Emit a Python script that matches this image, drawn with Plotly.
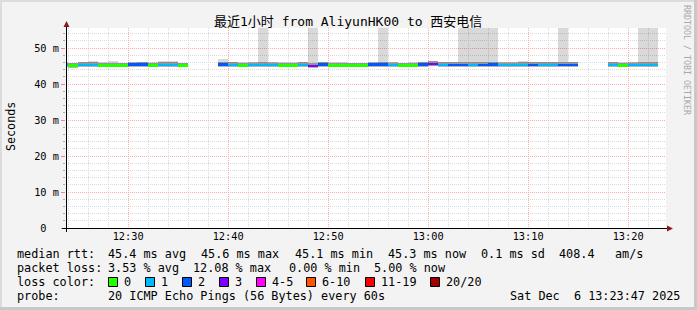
import plotly.graph_objects as go
import pandas as pd

# ---------------- data ----------------
bin_start = pd.date_range("2025-12-06 12:23", periods=60, freq="min")

loss_count = [1, 0, 1, 1, 0, 0, 0, 2, 2, 0, 1, 1, 0,
              None, None, None,
              2, 1, 0, 1, 1, 1, 0, 0, 1, 3, 2, 0, 0, 0, 0, 2, 2, 1, 0, 0,
              2, 3, 1, 2, 2, 1, 2, 2, 1, 1, 1, 2, 1, 1, 2, 2,
              None, None, None,
              1, 0, 1, 1, 1]

median_ms = [45.3, 45.1, 45.3, 45.3, 45.2, 45.2, 45.2, 45.4, 45.4, 45.2, 45.3, 45.3, 45.2,
             None, None, None,
             45.4, 45.3, 45.2, 45.3, 45.3, 45.3, 45.2, 45.2, 45.3, 45.0, 45.4, 45.2,
             45.2, 45.2, 45.2, 45.4, 45.4, 45.3, 45.2, 45.2, 45.4, 45.6, 45.3, 45.3,
             45.3, 45.3, 45.3, 45.4, 45.3, 45.3, 45.3, 45.3, 45.3, 45.3, 45.3, 45.3,
             None, None, None,
             45.3, 45.2, 45.3, 45.3, 45.3]

smoke_hi = [45.7, 45.8, 46.0, 46.4, 46.1, 46.3, 45.9, 45.8, 46.1, 46.1, 46.3, 46.3, 45.8,
            None, None, None,
            46.9, 46.1, 46.0, 45.9, 99.0, 45.9, 46.0, 46.2, 46.2, 99.0, 46.0, 46.0,
            46.1, 45.9, 45.9, 45.9, 99.0, 45.8, 45.7, 46.1, 46.2, 46.4, 46.2, 46.0,
            99.0, 99.0, 99.0, 99.0, 45.9, 45.9, 46.3, 46.2, 46.2, 46.0, 99.0, 46.1,
            None, None, None,
            46.0, 46.0, 45.9, 99.0, 99.0]

smoke_lo = [44.9, 44.8, 44.9, 44.9, 44.9, 44.9, 44.9, 45.0, 45.0, 44.9, 44.9, 44.9, 44.9,
            None, None, None,
            45.0, 44.9, 44.9, 44.9, 44.9, 44.9, 44.9, 44.8, 44.9, 44.6, 45.0, 44.9,
            44.9, 44.9, 44.9, 45.0, 45.0, 44.9, 44.9, 44.9, 45.0, 45.1, 44.9, 44.9,
            44.9, 44.9, 44.9, 45.0, 44.9, 44.9, 44.9, 45.0, 44.9, 44.9, 44.9, 44.9,
            None, None, None,
            44.9, 44.8, 44.9, 44.9, 44.9]

loss_levels = ["0", "1", "2", "3", "4-5", "6-10", "11-19", "20/20"]
loss_colors = ["#26ff00", "#00b8ff", "#0059ff", "#7e00ff", "#ff00ff", "#ff5500", "#ff0000", "#a10000"]

y_tickvals = [0, 10, 20, 30, 40, 50]
y_ticktext = ["0\u00a0\u00a0", "10 m", "20 m", "30 m", "40 m", "50 m"]

title_text = "最近1小时 from AliyunHK00 to 西安电信"
legend_rows = [
    [("median rtt:", 16), ("45.4 ms avg", 107), ("45.6 ms max", 200), ("45.1 ms min", 293.5),
     ("45.3 ms now", 387), ("0.1 ms sd", 480), ("408.4", 558), ("am/s", 614)],
    [("packet loss:", 16), ("3.53 % avg", 107), ("12.08 % max", 192), ("0.00 % min", 288),
     ("5.00 % now", 373)],
    [("loss color:", 16)],
    [("probe:", 16), ("20 ICMP Echo Pings (56 Bytes) every 60s", 107)],
]
stamp_text = "Sat Dec  6 13:23:47 2025"

# ---------------- geometry helpers ----------------
W, H = 697, 310
L, R, T, B = 66, 31, 28, 82
PW, PH = W - L - R, H - T - B


def fx(x):
    return (x - L) / PW


def fy(y):
    return (H - B - y) / PH


MONO = "DejaVu Sans Mono, Noto Sans CJK SC, monospace"
BIN_MS = 60000
centers = [t + pd.Timedelta(seconds=30) for t in bin_start]

fig = go.Figure()

# smoke (outer)
ox, ob, oy = [], [], []
for c, lo, hi in zip(centers, smoke_lo, smoke_hi):
    if lo is None:
        continue
    ox.append(c); ob.append(lo); oy.append(hi - lo)
fig.add_trace(go.Bar(x=ox, y=oy, base=ob, width=BIN_MS, marker_color="rgba(0,0,0,0.15)",
                     marker_line_width=0, hoverinfo="skip", showlegend=False))
# smoke (inner, darker)
ix, ib, iy = [], [], []
for c, m in zip(centers, median_ms):
    if m is None:
        continue
    ix.append(c); ib.append(m - 0.55); iy.append(1.3)
fig.add_trace(go.Bar(x=ix, y=iy, base=ib, width=BIN_MS, marker_color="rgba(0,0,0,0.30)",
                     marker_line_width=0, hoverinfo="skip", showlegend=False))

# median line coloured by loss
for lvl, col in enumerate(loss_colors):
    xs, bs, ys = [], [], []
    for c, m, lc in zip(centers, median_ms, loss_count):
        if m is None or lc != lvl:
            continue
        xs.append(c); bs.append(m - 0.35); ys.append(0.7)
    if xs:
        fig.add_trace(go.Bar(x=xs, y=ys, base=bs, width=BIN_MS, marker_color=col,
                             marker_line_width=0, hoverinfo="skip", showlegend=False))

shapes = []
# image frame
shapes.append(dict(type="rect", xref="paper", yref="paper", x0=fx(694), x1=fx(697), y0=fy(310), y1=fy(0),
                   fillcolor="#c8c8c8", line_width=0, layer="below"))
shapes.append(dict(type="rect", xref="paper", yref="paper", x0=fx(0), x1=fx(697), y0=fy(310), y1=fy(307),
                   fillcolor="#c8c8c8", line_width=0, layer="below"))
shapes.append(dict(type="rect", xref="paper", yref="paper", x0=fx(0), x1=fx(2), y0=fy(307), y1=fy(0),
                   fillcolor="#dcdcdc", line_width=0, layer="below"))
shapes.append(dict(type="rect", xref="paper", yref="paper", x0=fx(0), x1=fx(694), y0=fy(2), y1=fy(0),
                   fillcolor="#dcdcdc", line_width=0, layer="below"))
# axes
shapes.append(dict(type="line", xref="paper", yref="paper", x0=fx(62), x1=fx(668), y0=fy(228.5), y1=fy(228.5),
                   line=dict(color="black", width=1)))
shapes.append(dict(type="line", xref="paper", yref="paper", x0=fx(66.5), x1=fx(66.5), y0=fy(232), y1=fy(25),
                   line=dict(color="black", width=1)))
shapes.append(dict(type="path", xref="paper", yref="paper",
                   path=f"M {fx(63.5)},{fy(27)} L {fx(69.5)},{fy(27)} L {fx(66.5)},{fy(21)} Z",
                   fillcolor="#8b1a1a", line_width=0))
shapes.append(dict(type="path", xref="paper", yref="paper",
                   path=f"M {fx(667)},{fy(225.5)} L {fx(667)},{fy(231.5)} L {fx(673)},{fy(228.5)} Z",
                   fillcolor="#8b1a1a", line_width=0))

annotations = []
annotations.append(dict(text=title_text, x=fx(348), y=fy(21), xref="paper", yref="paper",
                        showarrow=False, xanchor="center", yanchor="middle",
                        font=dict(family=MONO, size=13, color="black")))
annotations.append(dict(text="Seconds", x=fx(11), y=fy(127), xref="paper", yref="paper",
                        showarrow=False, textangle=-90, xanchor="center", yanchor="middle",
                        font=dict(family=MONO, size=11.7, color="black")))
annotations.append(dict(text="RRDTOOL / TOBI OETIKER", x=fx(687), y=fy(60), xref="paper", yref="paper",
                        showarrow=False, textangle=90, xanchor="center", yanchor="middle",
                        font=dict(family=MONO, size=8.3, color="#a8a8a8")))
row_y = [254, 268, 282, 296]
for row, yy in zip(legend_rows, row_y):
    for txt, xx in row:
        annotations.append(dict(text=txt.replace(" ", "\u00a0"), x=fx(xx), y=fy(yy), xref="paper", yref="paper",
                                showarrow=False, xanchor="left", yanchor="middle", borderpad=0,
                                font=dict(family=MONO, size=11.8, color="black")))
annotations.append(dict(text=stamp_text.replace(" ", "\u00a0"), x=fx(681), y=fy(296), xref="paper", yref="paper",
                        showarrow=False, xanchor="right", yanchor="middle", borderpad=0,
                        font=dict(family=MONO, size=11.8, color="black")))

box_left = [108.5, 145.5, 182.5, 219.5, 256.5, 306.5, 365.5, 430.5]
for lbl, col, bx in zip(loss_levels, loss_colors, box_left):
    shapes.append(dict(type="rect", xref="paper", yref="paper", x0=fx(bx), x1=fx(bx + 9),
                       y0=fy(286.5), y1=fy(277.5), fillcolor=col, line=dict(color="black", width=1)))
    annotations.append(dict(text=lbl, x=fx(bx + 14.5), y=fy(282), xref="paper", yref="paper",
                            showarrow=False, xanchor="left", yanchor="middle", borderpad=0,
                            font=dict(family=MONO, size=11.8, color="black")))

fig.update_layout(
    width=W, height=H, margin=dict(l=L, r=R, t=T, b=B, pad=0),
    paper_bgcolor="#f3f3f3", plot_bgcolor="white",
    barmode="overlay", bargap=0, showlegend=False,
    shapes=shapes, annotations=annotations,
    xaxis=dict(type="date", range=["2025-12-06 12:23:47", "2025-12-06 13:23:47"],
               tickformat="%H:%M", tick0="2025-12-06 12:00", dtick=600000,
               showgrid=True, gridcolor="#ffaaaa", griddash="1px,1px", gridwidth=1,
               minor=dict(dtick=120000, showgrid=True, gridcolor="#dadada", griddash="1px,1px"),
               ticks="", zeroline=False, showline=False, ticklabelstandoff=1,
               tickfont=dict(family=MONO, size=10.3, color="black")),
    yaxis=dict(range=[0, 55.56], tickvals=y_tickvals, ticktext=y_ticktext,
               showgrid=True, gridcolor="#ffaaaa", griddash="1px,1px", gridwidth=1,
               minor=dict(dtick=2, showgrid=True, gridcolor="#dadada", griddash="1px,1px",
                          ticks="outside", ticklen=2, tickcolor="#aaaaaa"),
               ticks="outside", ticklen=4, tickcolor="#ff8080",
               zeroline=False, showline=False, ticklabelstandoff=0,
               tickfont=dict(family=MONO, size=10.3, color="black")),
)

fig.write_html("out.html")
